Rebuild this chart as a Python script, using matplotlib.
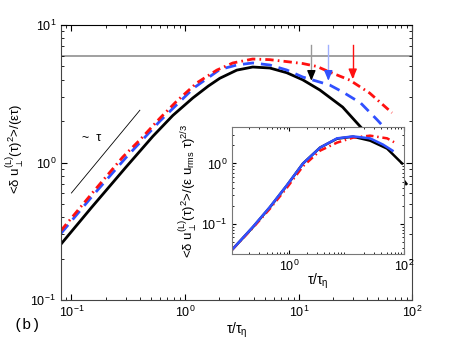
import matplotlib
matplotlib.use('Agg')
import matplotlib.pyplot as plt

plt.rcParams['font.family'] = ['Liberation Sans', 'DejaVu Sans']
plt.rcParams['mathtext.fontset'] = 'custom'
plt.rcParams['mathtext.rm'] = 'Liberation Sans'
plt.rcParams['mathtext.it'] = 'Liberation Sans:italic'
plt.rcParams['mathtext.default'] = 'regular'

# main panel: <du^2>/(eps tau) vs tau/tau_eta
tau_black = [0.081, 0.15, 0.3, 0.52, 0.78, 1.17, 1.6, 2.02, 2.85, 3.93, 5.55, 7.83, 10.8, 15.3, 24.3, 35.7, 50, 70, 88]
S_black = [0.255, 0.47, 0.92, 1.55, 2.2, 2.95, 3.6, 4.1, 4.7, 4.95, 4.87, 4.5, 4.0, 3.37, 2.53, 1.78, 1.26, 0.9, 0.7]

tau_blue = [0.081, 0.15, 0.3, 0.6, 1.2, 2.02, 2.85, 3.93, 5.55, 7.83, 10.8, 13.3, 18.7, 24.3, 35, 49, 60]
S_blue = [0.305, 0.56, 1.08, 2.0, 3.5, 4.75, 5.12, 5.3, 5.12, 4.71, 4.19, 3.98, 3.66, 3.26, 2.71, 2.04, 1.7]

tau_red = [0.081, 0.15, 0.284, 0.4, 0.6, 0.845, 1.27, 1.9, 2.63, 3.93, 5.55, 7.83, 10.8, 14.4, 18.7, 28, 42, 66]
S_red = [0.32, 0.59, 1.1, 1.46, 2.1, 2.8, 3.8, 4.7, 5.3, 5.66, 5.6, 5.42, 5.25, 5.0, 4.55, 3.98, 3.2, 2.3]

hline_level = 6.0
slope_tau = [0.1, 0.4]
slope_S = [0.6, 2.4]

arrow_tau = [12.9, 18.2, 29.8]
arrow_top = [7.2, 7.2, 7.2]
arrow_tip = [3.75, 3.75, 3.85]

# inset: <du^2>/(eps u_rms tau)^(2/3)
tin_black = [0.1, 0.232, 0.46, 0.91, 1.73, 3.44, 6.8, 12.9, 25.6, 50.7, 92.7]
Sin_black = [0.0375, 0.089, 0.19, 0.436, 1.0, 1.83, 2.57, 2.77, 2.38, 1.76, 1.0]

tin_blue = [0.1, 0.232, 0.46, 0.91, 1.73, 3.44, 6.8, 12.9, 25.6, 43, 63]
Sin_blue = [0.0375, 0.09, 0.192, 0.44, 1.0, 1.83, 2.6, 2.8, 2.6, 2.05, 1.63]

tin_red = [0.1, 0.232, 0.46, 0.91, 1.73, 3.44, 6.8, 12.9, 25.6, 50.7, 67]
Sin_red = [0.0375, 0.087, 0.18, 0.40, 0.9, 1.63, 2.21, 2.67, 2.88, 2.6, 2.25]

black = 'black'
blue = '#3050ff'
red = '#ff1010'

fig = plt.figure(figsize=(4.56, 3.43), dpi=100)
ax = fig.add_axes([0.1338, 0.1254, 0.7708, 0.8016])

ax.axhline(hline_level, color='#999999', lw=1.3, zorder=1)
ax.plot(slope_tau, slope_S, color='black', lw=0.6)
ax.plot(tau_black, S_black, color=black, lw=2.0)
ax.plot(tau_blue, S_blue, color=blue, lw=2.0, ls=(0, (4, 2.5)))
ax.plot(tau_red, S_red, color=red, lw=2.0, ls=(0, (3, 1.5, 0.6, 1.5)))

shaft_cols = ['#999999', '#a0b0ff', red]
head_cols = ['black', blue, red]
for i in range(3):
    ax.plot([arrow_tau[i], arrow_tau[i]], [arrow_top[i], arrow_tip[i] * 1.1], color=shaft_cols[i], lw=1.0)
    ax.annotate('', xy=(arrow_tau[i], arrow_tip[i]), xytext=(arrow_tau[i], arrow_tip[i] * 1.25),
                arrowprops=dict(arrowstyle='-|>,head_length=0.6,head_width=0.25', color=head_cols[i], lw=1.0))

ax.text(0.123, 1.5, '~  \u03c4', fontsize=9, ha='left', va='center')

ax.set_xscale('log')
ax.set_yscale('log')
ax.set_xlim(0.081, 100)
ax.set_ylim(0.1, 10)
ax.tick_params(which='both', direction='in', top=True, right=True, labelsize=9)
ax.tick_params(which='major', length=4)
ax.tick_params(which='minor', length=2)
for s in ax.spines.values():
    s.set_color('#444444')
ax.spines['top'].set_color('black')

ax.set_xlabel(r'$\tau/\tau_\eta$', fontsize=10)
ax.set_ylabel(r'<$\delta$ u$_\perp^{(L)}$($\tau$)$^2$>/($\varepsilon\tau$)', fontsize=9.5)
ax.yaxis.set_label_coords(-0.10, 0.55)
ax.xaxis.set_label_coords(0.5, -0.075)

fig.text(0.03, 0.052, '(b)', fontsize=11, family='Liberation Mono', va='center')

# inset
ins = fig.add_axes([0.5088, 0.2595, 0.3772, 0.3702])
ins.plot(tin_black, Sin_black, color=black, lw=1.8)
ins.plot(tin_red, Sin_red, color=red, lw=1.8, ls=(0, (3, 1.5, 0.6, 1.5)))
ins.plot(tin_blue, Sin_blue, color=blue, lw=1.8)
ins.set_xscale('log')
ins.set_yscale('log')
ins.set_xlim(0.1, 100)
ins.set_ylim(0.032, 4)
ins.set_xticks([1, 100])
ins.tick_params(which='both', direction='in', top=True, right=True, labelsize=9)
ins.tick_params(which='major', length=3)
ins.tick_params(which='minor', length=1.5)
for s in ins.spines.values():
    s.set_color('#777777')
ins.set_xlabel(r'$\tau/\tau_\eta$', fontsize=10)
ins.set_ylabel(r'<$\delta$ u$_\perp^{(L)}$($\tau$)$^2$>/($\varepsilon$ u$_{rms}$ $\tau$)$^{2/3}$', fontsize=9.5)
ins.yaxis.set_label_coords(-0.19, 0.5)
ins.xaxis.set_label_coords(0.5, -0.14)

fig.savefig('out.png', dpi=100)
